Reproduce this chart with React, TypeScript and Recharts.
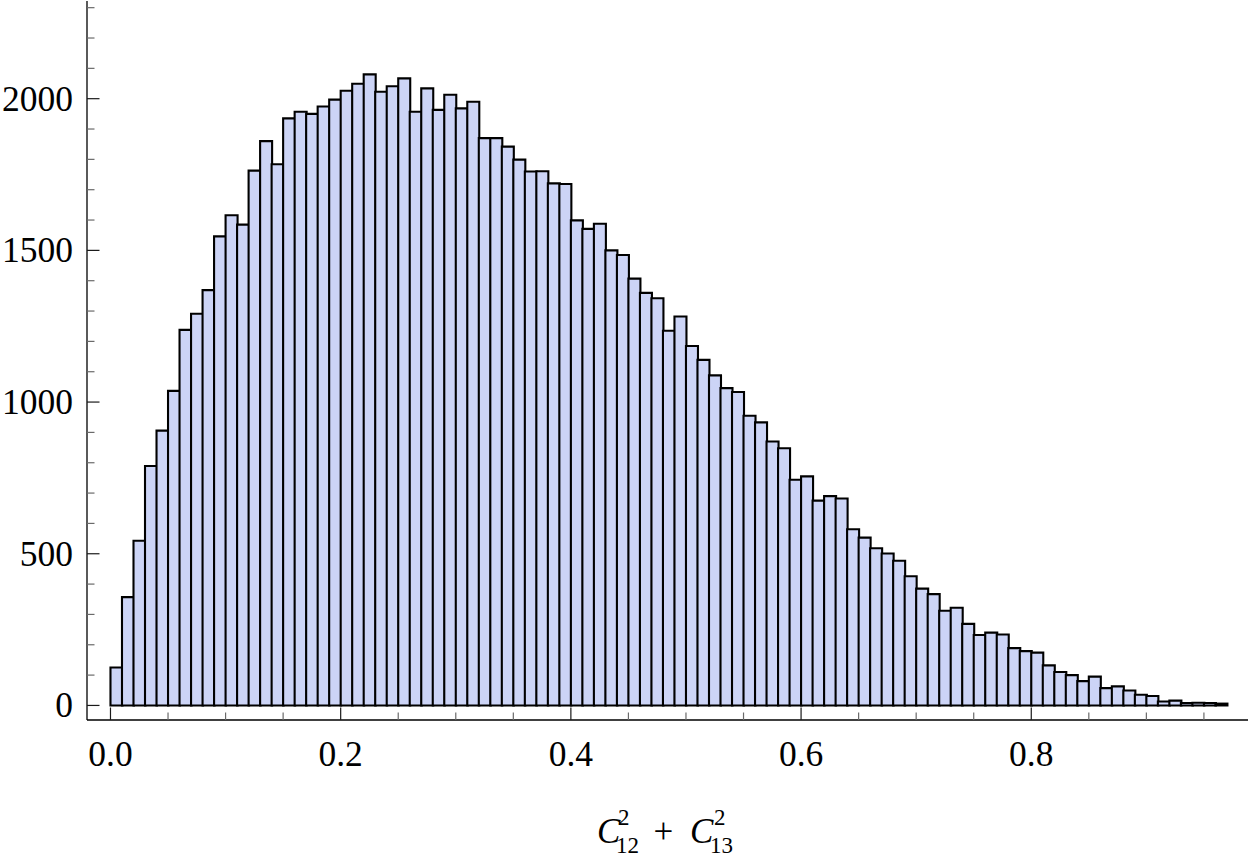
import React from 'react';
import { BarChart, Bar, XAxis, YAxis } from 'recharts';

// Histogram of C12^2 + C13^2, bins of width 0.01 starting at 0
const BIN_START = 0;
const BIN_WIDTH = 0.01;
const counts = [
  125, 357, 543, 789, 906, 1037, 1238, 1291, 1369, 1546,
  1616, 1585, 1763, 1860, 1784, 1935, 1957, 1950, 1974, 1997,
  2026, 2049, 2080, 2023, 2041, 2067, 1957, 2034, 1963, 2013,
  1968, 1990, 1870, 1870, 1842, 1799, 1760, 1761, 1721, 1719,
  1599, 1571, 1588, 1500, 1485, 1407, 1360, 1342, 1235, 1282,
  1185, 1139, 1088, 1046, 1033, 955, 933, 870, 848, 744,
  755, 675, 690, 682, 581, 553, 518, 501, 477, 426,
  385, 367, 312, 322, 269, 232, 240, 234, 189, 179,
  174, 132, 110, 100, 80, 95, 57, 63, 49, 35,
  31, 13, 16, 8, 9, 8, 6,
];

const xTicks = [0, 0.05, 0.1, 0.15, 0.2, 0.25, 0.3, 0.35, 0.4, 0.45, 0.5, 0.55, 0.6, 0.65, 0.7, 0.75, 0.8, 0.85, 0.9, 0.95];
const xLabeled = [0, 0.2, 0.4, 0.6, 0.8];
const yTicks = [0, 100, 200, 300, 400, 500, 600, 700, 800, 900, 1000, 1100, 1200, 1300, 1400, 1500, 1600, 1700, 1800, 1900, 2000, 2100, 2200, 2300];
const yLabeled = [0, 500, 1000, 1500, 2000];
const xDomain: [number, number] = [-0.0204, 0.9883];
const yDomain: [number, number] = [-48, 2322];

const data = counts.map((c, i) => ({
  x: +(BIN_START + BIN_WIDTH * (i + 0.5)).toFixed(4),
  count: c,
}));

const FONT = '"Liberation Serif", "Times New Roman", serif';
const MAJOR = 12.5;
const MINOR = 7.5;
const MAJOR_COLOR = '#1a1a1a';
const MINOR_COLOR = '#6a6a6a';

const isIn = (v: number, list: number[]) => list.some((l) => Math.abs(l - v) < 1e-9);

function BottomTick(props: any) {
  const { x, y, payload } = props;
  const major = isIn(payload.value, xLabeled);
  return (
    <g>
      <line x1={x} x2={x} y1={y} y2={y - (major ? MAJOR : MINOR)} stroke={major ? MAJOR_COLOR : MINOR_COLOR} strokeWidth={1.2} />
      {major && (
        <text x={x} y={y + 46} textAnchor="middle" fontSize={35.5} fontFamily={FONT} fill="#000">
          {Number(payload.value).toFixed(1)}
        </text>
      )}
    </g>
  );
}

function TopTick(props: any) {
  const { x, y, payload } = props;
  const major = isIn(payload.value, xLabeled);
  return (
    <line x1={x} x2={x} y1={y} y2={y + (major ? MAJOR : MINOR)} stroke={major ? MAJOR_COLOR : MINOR_COLOR} strokeWidth={1.2} />
  );
}

function LeftTick(props: any) {
  const { x, y, payload } = props;
  const major = isIn(payload.value, yLabeled);
  return (
    <g>
      <line x1={x} x2={x + (major ? MAJOR : MINOR)} y1={y} y2={y} stroke={major ? MAJOR_COLOR : MINOR_COLOR} strokeWidth={1.2} />
      {major && (
        <text x={x - 14} y={y + 12} textAnchor="end" fontSize={35.5} fontFamily={FONT} fill="#000">
          {String(payload.value)}
        </text>
      )}
    </g>
  );
}

function RightTick(props: any) {
  const { x, y, payload } = props;
  const major = isIn(payload.value, yLabeled);
  return (
    <line x1={x} x2={x - (major ? MAJOR : MINOR)} y1={y} y2={y} stroke={major ? MAJOR_COLOR : MINOR_COLOR} strokeWidth={1.2} />
  );
}

function AxisTitle(props: any) {
  const vb = props.viewBox || { x: 87, y: 720, width: 1161, height: 138 };
  const cx = vb.x + vb.width / 2;
  const yb = vb.y;
  return (
    <text fontFamily={FONT} fill="#000" fontSize={35}>
      <tspan x={cx - 70.5} y={yb + 123} fontStyle="italic">C</tspan>
      <tspan x={cx - 49.5} y={yb + 105} fontSize={23}>2</tspan>
      <tspan x={cx - 51.5} y={yb + 133} fontSize={23}>12</tspan>
      <tspan x={cx - 14} y={yb + 123}>+</tspan>
      <tspan x={cx + 22.5} y={yb + 123} fontStyle="italic">C</tspan>
      <tspan x={cx + 46.5} y={yb + 105} fontSize={23}>2</tspan>
      <tspan x={cx + 42.5} y={yb + 133} fontSize={23}>13</tspan>
    </text>
  );
}

const axisLine = { stroke: '#000', strokeWidth: 1.3 };

export default function App() {
  return (
    <div style={{ position: 'absolute', left: 0, top: 0, width: 1250, height: 858, background: '#fff' }}>
      <BarChart
        width={1250}
        height={858}
        data={data}
        margin={{ top: 1, right: 2, bottom: 0, left: 0 }}
        barCategoryGap={0}
        barGap={0}
      >
        <XAxis
          xAxisId="b"
          dataKey="x"
          type="number"
          orientation="bottom"
          domain={xDomain}
          allowDataOverflow
          ticks={xTicks}
          interval={0}
          height={138}
          tickSize={0}
          tickMargin={0}
          tickLine={false}
          axisLine={axisLine}
          tick={<BottomTick />}
          label={<AxisTitle />}
        />
        <XAxis
          xAxisId="t"
          dataKey="x"
          type="number"
          orientation="top"
          domain={xDomain}
          allowDataOverflow
          ticks={xTicks}
          interval={0}
          height={0}
          tickSize={0}
          tickMargin={0}
          tickLine={false}
          axisLine={axisLine}
          tick={<TopTick />}
        />
        <YAxis
          yAxisId="l"
          type="number"
          orientation="left"
          domain={yDomain}
          allowDataOverflow
          ticks={yTicks}
          interval={0}
          width={87}
          tickSize={0}
          tickMargin={0}
          tickLine={false}
          axisLine={axisLine}
          tick={<LeftTick />}
        />
        <YAxis
          yAxisId="r"
          type="number"
          orientation="right"
          domain={yDomain}
          allowDataOverflow
          ticks={yTicks}
          interval={0}
          width={0}
          tickSize={0}
          tickMargin={0}
          tickLine={false}
          axisLine={axisLine}
          tick={<RightTick />}
        />
        <Bar
          dataKey="count"
          xAxisId="b"
          yAxisId="l"
          fill="#CCD4F6"
          stroke="#000"
          strokeWidth={2.1}
          isAnimationActive={false}
        />
      </BarChart>
    </div>
  );
}
